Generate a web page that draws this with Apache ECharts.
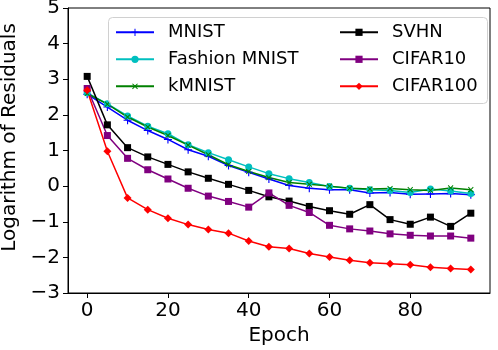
<!DOCTYPE html>
<html>
<head>
<meta charset="utf-8">
<script src="https://cdn.jsdelivr.net/npm/echarts@6/dist/echarts.min.js"></script>
<style>
  html, body { margin: 0; padding: 0; background: #fff; }
  #main { width: 498px; height: 350px; }
</style>
</head>
<body>
<div id="main"></div>
<script>
// epochs on the x axis
const epochs = [0, 5, 10, 15, 20, 25, 30, 35, 40, 45, 50, 55, 60, 65, 70, 75, 80, 85, 90, 95];

// log residuals per dataset
const mnist = [2.58, 2.22, 1.85, 1.56, 1.31, 1.02, 0.84, 0.58, 0.39, 0.20, 0.02, -0.06, -0.10, -0.10, -0.19, -0.18, -0.23, -0.22, -0.21, -0.24];
const fashionMnist = [2.62, 2.31, 1.97, 1.68, 1.47, 1.16, 0.94, 0.74, 0.54, 0.35, 0.21, 0.10, -0.01, -0.06, -0.10, -0.12, -0.18, -0.08, -0.14, -0.21];
const kmnist = [2.6, 2.3, 1.94, 1.66, 1.42, 1.15, 0.88, 0.60, 0.41, 0.24, 0.10, 0.05, 0.0, -0.06, -0.08, -0.07, -0.10, -0.12, -0.05, -0.10];
const svhn = [3.08, 1.72, 1.08, 0.82, 0.61, 0.40, 0.22, 0.05, -0.12, -0.30, -0.42, -0.57, -0.69, -0.79, -0.52, -0.94, -1.07, -0.87, -1.13, -0.76];
const cifar10 = [2.74, 1.42, 0.78, 0.46, 0.20, -0.06, -0.28, -0.43, -0.59, -0.19, -0.54, -0.74, -1.10, -1.20, -1.26, -1.34, -1.38, -1.40, -1.40, -1.46];
const cifar100 = [2.69, 0.98, -0.33, -0.66, -0.90, -1.08, -1.22, -1.32, -1.54, -1.70, -1.75, -1.89, -1.99, -2.08, -2.15, -2.18, -2.21, -2.28, -2.31, -2.34];

const xTicks = [0, 20, 40, 60, 80];

const plusPath = 'path://M4.3,0H5.7V4.3H10V5.7H5.7V10H4.3V5.7H0V4.3H4.3Z';

function pairs(values) {
    return epochs.map((e, i) => [e, values[i]]);
}

function lineSeries(name, values, color, symbol, size, rotate) {
    return {
        name: name,
        type: 'line',
        data: pairs(values),
        symbol: symbol,
        symbolSize: size,
        symbolRotate: rotate || 0,
        showAllSymbol: true,
        animation: false,
        lineStyle: { color: color, width: 1.5 },
        itemStyle: { color: color, borderWidth: 0 },
        emphasis: { disabled: true }
    };
}

const font = 'DejaVu Sans';

const option = {
    animation: false,
    textStyle: { fontFamily: font },
    grid: {
        left: 68, right: 8, top: 8, bottom: 57,
        show: true, borderColor: '#000', borderWidth: 1,
        outerBoundsMode: 'none'
    },
    xAxis: {
        type: 'value',
        min: -4.75,
        max: 99.75,
        name: 'Epoch',
        nameLocation: 'middle',
        nameGap: 30,
        nameTextStyle: { fontSize: 20, color: '#000', fontFamily: font },
        splitLine: { show: false },
        axisLine: { onZero: false, lineStyle: { color: '#000' } },
        axisTick: { show: true, length: 5, customValues: xTicks, lineStyle: { color: '#000' } },
        axisLabel: { customValues: xTicks, fontSize: 20, color: '#000', margin: 8, fontFamily: font }
    },
    yAxis: {
        type: 'value',
        min: -3,
        max: 5,
        interval: 1,
        name: 'Logarithm of Residuals',
        nameLocation: 'middle',
        nameGap: 48,
        nameTextStyle: { fontSize: 20, color: '#000', fontFamily: font, padding: [0, 0, 0, 26] },
        splitLine: { show: false },
        axisLine: { show: true, onZero: false, lineStyle: { color: '#000' } },
        axisTick: { show: true, length: 5, lineStyle: { color: '#000' } },
        axisLabel: {
            fontSize: 20, color: '#000', margin: 8, fontFamily: font,
            formatter: v => String(v).replace('-', '\u2212')
        }
    },
    graphic: [{
        type: 'rect',
        z: 10,
        shape: { x: 108.5, y: 17.5, width: 379, height: 86, r: 4 },
        style: { fill: 'rgba(255,255,255,0.8)', stroke: '#d0d0d0', lineWidth: 1 }
    }],
    legend: [{
        orient: 'vertical',
        left: 115, top: 23.3, padding: 0,
        itemWidth: 38, itemHeight: 9, itemGap: 9,
        z: 20,
        textStyle: { fontSize: 18, color: '#000', lineHeight: 18, padding: [0, 0, 0, 9], fontFamily: font },
        data: ['MNIST', 'Fashion MNIST', 'kMNIST']
    }, {
        orient: 'vertical',
        left: 339, top: 23.3, padding: 0,
        itemWidth: 38, itemHeight: 9, itemGap: 9,
        z: 20,
        textStyle: { fontSize: 18, color: '#000', lineHeight: 18, padding: [0, 0, 0, 9], fontFamily: font },
        data: ['SVHN', 'CIFAR10', 'CIFAR100']
    }],
    series: [
        lineSeries('MNIST', mnist, '#0000ff', plusPath, 8),
        lineSeries('Fashion MNIST', fashionMnist, '#00bfbf', 'circle', 7),
        lineSeries('kMNIST', kmnist, '#008000', plusPath, 7, 45),
        lineSeries('SVHN', svhn, '#000000', 'rect', 7),
        lineSeries('CIFAR10', cifar10, '#800080', 'rect', 7),
        lineSeries('CIFAR100', cifar100, '#ff0000', 'diamond', 8)
    ]
};

const plot = echarts.init(document.querySelector('#main'), null, { renderer: 'canvas' });
plot.setOption(option);
</script>
</body>
</html>
